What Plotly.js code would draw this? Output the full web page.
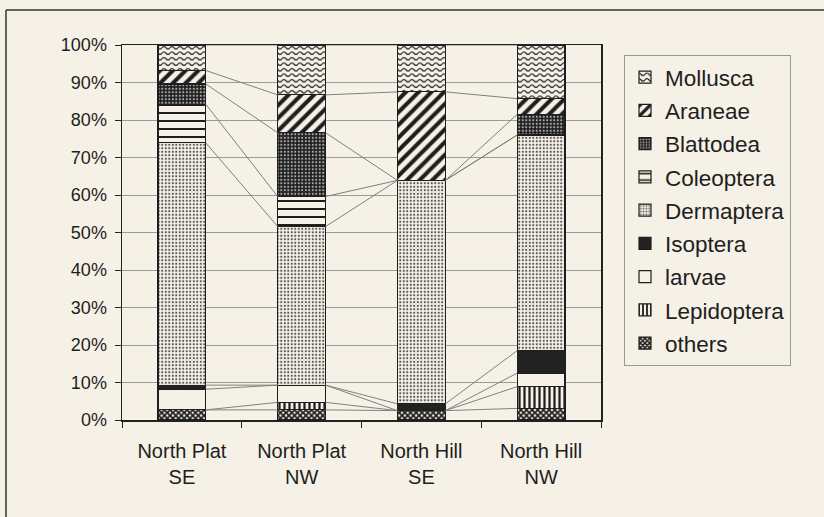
<!DOCTYPE html>
<html>
<head>
<meta charset="utf-8">
<script src="https://cdn.plot.ly/plotly-3.0.1.min.js"></script>
<style>html,body{margin:0;padding:0;background:#f5f1e6;}#chart{width:824px;height:517px;}</style>
</head>
<body>
<div id="chart"></div>
<script>
// Categories (sites) and tick labels
const categories = ['North Plat<br>SE', 'North Plat<br>NW', 'North Hill<br>SE', 'North Hill<br>NW'];
const xpos = [0, 1, 2, 3];

// Percent composition per site, bottom-to-top stacking order
const others      = [2.7, 2.7, 2.5, 3.1];
const lepidoptera = [0.0, 2.0, 0.0, 5.8];
const larvae      = [5.5, 4.6, 0.0, 3.6];
const isoptera    = [1.1, 0.0, 1.8, 6.0];
const dermaptera  = [64.6, 42.3, 59.6, 57.5];
const coleoptera  = [10.3, 8.0, 0.0, 0.0];
const blattodea   = [5.4, 17.0, 0.0, 5.5];
const araneae     = [3.6, 10.1, 23.6, 4.2];
const mollusca    = [6.8, 13.3, 12.5, 14.3];

const seriesNames = ['others', 'Lepidoptera', 'larvae', 'Isoptera', 'Dermaptera', 'Coleoptera', 'Blattodea', 'Araneae', 'Mollusca'];
const seriesValues = [others, lepidoptera, larvae, isoptera, dermaptera, coleoptera, blattodea, araneae, mollusca];

const BG = '#f5f1e6';
const INK = '#1e1e1e';
const styles = {
  'others':      {color: BG, pattern: {shape: 'x', fgcolor: INK, bgcolor: BG, size: 4, solidity: 0.7}},
  'Lepidoptera': {color: BG, pattern: {shape: '|', fgcolor: INK, bgcolor: BG, size: 5, solidity: 0.45}},
  'larvae':      {color: BG},
  'Isoptera':    {color: '#222222'},
  'Dermaptera':  {color: BG, pattern: {shape: '.', fgcolor: '#555', bgcolor: BG, size: 3.5, solidity: 0.3}},
  'Coleoptera':  {color: BG, pattern: {shape: '-', fgcolor: INK, bgcolor: BG, size: 8, solidity: 0.25}},
  'Blattodea':   {color: '#222', pattern: {shape: '.', fgcolor: '#aaa', bgcolor: '#1e1e1e', size: 3.5, solidity: 0.3}},
  'Araneae':     {color: BG, pattern: {shape: '/', fgcolor: INK, bgcolor: BG, size: 9, solidity: 0.45}},
  'Mollusca':    {color: BG, pattern: {shape: 'x', fgcolor: '#303030', bgcolor: BG, size: 7, solidity: 0.15}}
};

const BARW = 0.4;
const traces = [];

// Series lines connecting segment tops between adjacent bars
const cum = xpos.map(() => 0);
seriesNames.forEach((name, k) => {
  const vals = seriesValues[k];
  const tops = vals.map((v, i) => cum[i] + v);
  const lx = [], ly = [];
  for (let i = 0; i < xpos.length - 1; i++) {
    lx.push(xpos[i] + BARW / 2, xpos[i + 1] - BARW / 2, null);
    ly.push(tops[i], tops[i + 1], null);
  }
  traces.push({type: 'scatter', mode: 'lines', x: lx, y: ly, showlegend: false, hoverinfo: 'skip',
    line: {color: '#808080', width: 1}});
  tops.forEach((t, i) => cum[i] = t);
});

seriesNames.forEach((name, k) => {
  const st = styles[name];
  const marker = {color: st.color, line: {color: INK, width: 1.2}};
  if (st.pattern) marker.pattern = st.pattern;
  traces.push({type: 'bar', name: name, x: xpos, y: seriesValues[k], width: BARW,
    legendgroup: name, legendrank: seriesNames.length - k, marker: marker});
});

const ml = 122, mr = 223, mt = 45, mb = 97;
const pw = 824 - ml - mr, ph = 517 - mt - mb;
const px = v => (v - ml) / pw;
const py = v => (517 - mb - v) / ph;

const layout = {
  width: 824, height: 517,
  paper_bgcolor: BG, plot_bgcolor: BG,
  margin: {l: ml, r: mr, t: mt, b: mb, pad: 0},
  barmode: 'stack',
  font: {family: '"Liberation Sans", Arial, sans-serif', color: '#1e1e1e'},
  xaxis: {
    range: [-0.5, 3.5], tickmode: 'array', tickvals: xpos, ticktext: categories,
    ticks: '', showgrid: false, zeroline: false, ticklabelstandoff: 12,
    showline: true, mirror: true, linecolor: '#222', linewidth: 1.5,
    tickfont: {size: 20},
    minor: {tickmode: 'array', tickvals: [-0.5, 0.5, 1.5, 2.5, 3.5], ticks: 'outside', ticklen: 6, tickcolor: '#222', showgrid: false}
  },
  yaxis: {
    range: [0, 100], dtick: 10, ticksuffix: '%', ticks: 'outside', ticklen: 6, tickcolor: '#222',
    showgrid: true, gridcolor: '#9a9a9a', gridwidth: 1, zeroline: false, ticklabelstandoff: 4,
    showline: true, mirror: true, linecolor: '#222', linewidth: 1.5,
    tickfont: {size: 18}
  },
  legend: {
    x: px(624), y: py(55), xanchor: 'left', yanchor: 'top',
    bgcolor: 'rgba(0,0,0,0)', bordercolor: '#999', borderwidth: 1,
    font: {size: 22.5}, traceorder: 'grouped', tracegroupgap: 1
  },
  shapes: [
    {type: 'line', xref: 'paper', yref: 'paper', x0: px(6), x1: px(824), y0: py(10), y1: py(10), line: {color: '#333', width: 1.5}},
    {type: 'line', xref: 'paper', yref: 'paper', x0: px(6), x1: px(6), y0: py(10), y1: py(517), line: {color: '#333', width: 1.5}}
  ],
  showlegend: true
};

function waveify(el) {
  if (!el) return;
  const f = el.style.fill || el.getAttribute('fill') || '';
  const m = /url\(["']?#([^"')]+)["']?\)/.exec(f);
  if (!m) return;
  const pat = document.getElementById(m[1]);
  if (!pat || pat.dataset.waved) return;
  pat.dataset.waved = '1';
  while (pat.firstChild) pat.removeChild(pat.firstChild);
  const NS = 'http://www.w3.org/2000/svg';
  pat.setAttribute('width', '8');
  pat.setAttribute('height', '5.5');
  pat.setAttribute('patternUnits', 'userSpaceOnUse');
  pat.removeAttribute('patternTransform');
  const r = document.createElementNS(NS, 'rect');
  r.setAttribute('width', '8'); r.setAttribute('height', '5.5'); r.setAttribute('fill', BG);
  pat.appendChild(r);
  const p = document.createElementNS(NS, 'path');
  p.setAttribute('d', 'M0,2.75 Q2,0.3 4,2.75 T8,2.75');
  p.setAttribute('fill', 'none'); p.setAttribute('stroke', '#1e1e1e'); p.setAttribute('stroke-width', '1.2');
  pat.appendChild(p);
}

Plotly.newPlot('chart', traces, layout, {displayModeBar: false, staticPlot: true}).then(gd => {
  const barTraces = gd.querySelectorAll('.barlayer .trace');
  const last = barTraces[barTraces.length - 1];
  if (last) last.querySelectorAll('path').forEach(waveify);
  gd.querySelectorAll('.legend .traces').forEach(t => {
    const txt = t.querySelector('.legendtext');
    if (txt && txt.textContent === 'Mollusca') t.querySelectorAll('.legendpoints path').forEach(waveify);
  });
});
</script>
</body>
</html>
